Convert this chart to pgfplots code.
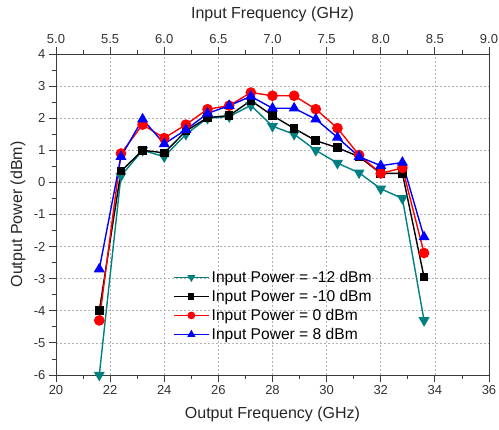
\documentclass[border=0pt]{standalone}
\usepackage{pgfplots}
\pgfplotsset{compat=1.18}
\usepackage{fontspec}
\setmainfont{Liberation Sans}
\definecolor{tealc}{RGB}{0,128,128}
\definecolor{axc}{RGB}{60,60,60}
\begin{document}
\begin{tikzpicture}
\begin{axis}[
  scale only axis, width=433pt, height=321pt,
  xmin=20, xmax=36, ymin=-6, ymax=4,
  xtick={20,22,...,36}, minor xtick={21,23,...,35},
  ytick={-6,-5,...,4}, minor ytick={-5.5,-4.5,...,3.5},
  xtick pos=lower, ytick pos=left,
  tick align=outside,
  major tick length=7pt, minor tick length=4pt,
  axis line style={axc, line width=0.9pt},
  every tick/.style={axc, line width=0.8pt},
  grid=major,
  major grid style={gray!60, dash pattern=on 2pt off 2pt, line width=0.6pt},
  /pgf/number format/assume math mode=true,
  tick label style={font=\fontsize{13}{15}\selectfont, text=black!80},
  xlabel={Output Frequency (GHz)},
  ylabel={Output Power (dBm)},
  every axis x label/.style={at={(axis description cs:0.5,-0.1215)}, anchor=center, font=\fontsize{16}{19}\selectfont, text=black!85},
  every axis y label/.style={at={(axis description cs:-0.0878,0.5)}, anchor=center, rotate=90, font=\fontsize{16}{19}\selectfont, text=black!85},
  legend cell align=left,
  legend style={draw=none, fill=none, at={(axis description cs:0.263,0.337)}, anchor=north west,
    font=\fontsize{15.6}{17}\selectfont, row sep=2.2pt},
  legend image code/.code={\draw[#1,line width=1.6pt,mark=none] (0pt,0pt) -- (35pt,0pt);
    \draw[#1,line width=1.2pt,mark repeat=2,mark phase=2,mark size=0.7\pgfplotmarksize] plot coordinates {(0pt,0pt) (17.5pt,0pt) (35pt,0pt)};},
  every axis plot/.append style={line width=1.4pt},
]
\addplot[tealc, mark=triangle*, mark size=5pt, mark options={rotate=180}] coordinates {
(21.6,-6.0) (22.4,0.2) (23.2,1.0) (24.0,0.8) (24.8,1.5) (25.6,2.0) (26.4,2.05) (27.2,2.4)
(28.0,1.75) (28.8,1.5) (29.6,1.0) (30.4,0.6) (31.2,0.3) (32.0,-0.2) (32.8,-0.5) (33.6,-4.3)};
\addlegendentry{Input Power = -12 dBm}
\addplot[black, mark=square*, mark size=3.6pt] coordinates {
(21.6,-4.0) (22.4,0.35) (23.2,1.0) (24.0,0.92) (24.8,1.6) (25.6,2.02) (26.4,2.08) (27.2,2.55)
(28.0,2.08) (28.8,1.68) (29.6,1.3) (30.4,1.08) (31.2,0.8) (32.0,0.28) (32.8,0.28) (33.6,-2.95)};
\addlegendentry{Input Power = -10 dBm}
\addplot[red, mark=*, mark size=4.6pt] coordinates {
(21.6,-4.3) (22.4,0.9) (23.2,1.8) (24.0,1.38) (24.8,1.8) (25.6,2.28) (26.4,2.39) (27.2,2.8)
(28.0,2.7) (28.8,2.7) (29.6,2.28) (30.4,1.69) (31.2,0.85) (32.0,0.28) (32.8,0.45) (33.6,-2.2)};
\addlegendentry{Input Power = 0 dBm}
\addplot[blue, mark=triangle*, mark size=5pt] coordinates {
(21.6,-2.7) (22.4,0.8) (23.2,1.97) (24.0,1.2) (24.8,1.64) (25.6,2.15) (26.4,2.39) (27.2,2.68)
(28.0,2.31) (28.8,2.31) (29.6,1.97) (30.4,1.4) (31.2,0.8) (32.0,0.52) (32.8,0.62) (33.6,-1.7)};
\addlegendentry{Input Power = 8 dBm}
\end{axis}
\begin{axis}[
  scale only axis, width=433pt, height=321pt,
  xmin=5, xmax=9, ymin=-6, ymax=4,
  axis x line*=top, axis y line=none,
  xtick={5,5.5,...,9}, minor xtick={5.25,5.75,...,8.75},
  tick align=outside,
  major tick length=7pt, minor tick length=4pt,
  axis line style={axc, line width=0.9pt},
  every tick/.style={axc, line width=0.8pt},
  /pgf/number format/assume math mode=true,
  xticklabel style={/pgf/number format/.cd, fixed, fixed zerofill, precision=1},
  tick label style={font=\fontsize{13}{15}\selectfont, text=black!80},
  xlabel={Input Frequency (GHz)},
  every axis x label/.style={at={(axis description cs:0.5,1.1246)}, anchor=center, font=\fontsize{16}{19}\selectfont, text=black!85},
]
\addplot[draw=none] coordinates {(5,0)};
\end{axis}
\pgfresetboundingbox
\path (-56pt,-55pt) rectangle ++(499pt,430pt);
\end{tikzpicture}
\end{document}
